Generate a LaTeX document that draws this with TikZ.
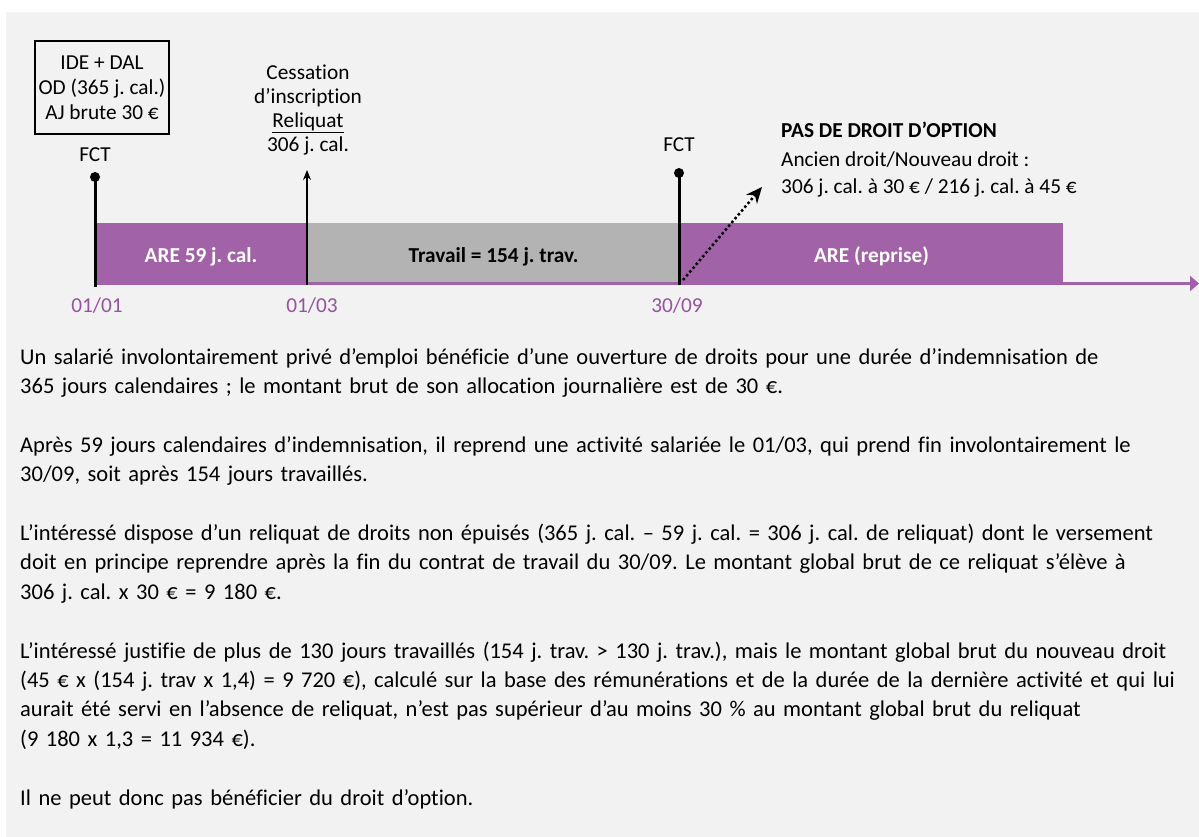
\documentclass[tikz,border=0pt]{standalone}
\usepackage{fontspec}
\setmainfont{Carlito}[Ligatures={TeX,NoCommon}]
\usetikzlibrary{arrows.meta,positioning}
\definecolor{purp}{RGB}{161,98,168}
\definecolor{datepurp}{RGB}{150,82,160}
\definecolor{workgray}{RGB}{179,179,179}
\definecolor{bggray}{RGB}{242,242,242}
\frenchspacing
\begin{document}
\begin{tikzpicture}[x=1pt,y=-1pt,
lbl/.style={font=\fontsize{21.3}{24.3}\selectfont,inner sep=0pt,anchor=base,align=center},
band/.style={minimum height=59pt,inner sep=0pt,text height=18pt,text depth=0pt,font=\fontsize{21.3}{25}\selectfont\bfseries},
date/.style={lbl,text=datepurp},
dot/.style={circle,fill=black,inner sep=0pt,minimum size=10pt},
vline/.style={line width=3pt},
para/.style={font=\fontsize{22.5}{29.4}\selectfont,inner sep=0pt,anchor=base west,text width=1300pt,align=left}]
\useasboundingbox (0,0) rectangle (1199,837);
\fill[bggray] (6,12) rectangle (1199,837);
\node[band,fill=purp,text=white,minimum width=212pt] (are1) at (201,253) {ARE 59 j. cal.};
\node[band,fill=workgray,minimum width=373pt] (trav) at (493.5,253) {Travail = 154 j. trav.};
\node[band,fill=purp,text=white,minimum width=383pt] (are2) at (871.5,253) {ARE (reprise)};
\coordinate (t0) at (95,283.5);
\coordinate (tend) at (1199,283.5);
\draw[purp,line width=3pt,-{Triangle[length=9pt,width=15pt]}] (t0)--(tend);
\node[lbl,draw,line width=1.5pt,minimum width=134pt,minimum height=93pt,anchor=center,font=\fontsize{21.3}{25}\selectfont] (od) at (102,87.5) {IDE + DAL\\OD (365 j. cal.)\\AJ brute 30 €};
\node[lbl] (fct1) at (95,162) {FCT};
\node[dot] (d0) at (95,177) {};
\coordinate (b0) at (95,287);
\draw[vline] (d0.center)--(b0);
\node[lbl] (ces) at (308,152) {Cessation\\d’inscription\\\underline{Reliquat}\\306 j. cal.};
\coordinate (b1) at (307,285);
\coordinate (a1) at (307,170);
\draw[line width=2.5pt,-{Stealth[length=10pt,width=8pt]}] (b1)--(a1);
\node[lbl] (fct2) at (679,152) {FCT};
\node[dot] (d2) at (679,173) {};
\coordinate (b2) at (679,285);
\draw[vline] (d2.center)--(b2);
\coordinate (s2) at (683,280);
\coordinate (a2) at (762,187);
\draw[line width=2.5pt,dash pattern=on 2.5pt off 2.5pt,-{Stealth[length=16pt,width=14pt]}] (s2)--(a2);
\node[lbl,anchor=base west,align=left,font=\fontsize{21.3}{28}\selectfont] (opt) at (781,194) {\textbf{PAS DE DROIT D’OPTION}\\Ancien droit/Nouveau droit :\\306 j. cal. à 30 € / 216 j. cal. à 45 €};
\node[date] (dt0) at (97,312) {01/01};
\node[date] (dt1) at (312,312) {01/03};
\node[date] (dt2) at (677,312) {30/09};
\node[para] (p1) at (20,364) {Un salarié involontairement privé d’emploi bénéficie d’une ouverture de droits pour une durée d’indemnisation de\\365 jours calendaires ; le montant brut de son allocation journalière est de 30 €.};
\node[para] (p2) at (20,452.2) {Après 59 jours calendaires d’indemnisation, il reprend une activité salariée le 01/03, qui prend fin involontairement le\\30/09, soit après 154 jours travaillés.};
\node[para] (p3) at (20,540.4) {L’intéressé dispose d’un reliquat de droits non épuisés (365 j. cal. – 59 j. cal. = 306 j. cal. de reliquat) dont le versement\\doit en principe reprendre après la fin du contrat de travail du 30/09. Le montant global brut de ce reliquat s’élève à\\306 j. cal. x 30 € = 9 180 €.};
\node[para] (p4) at (20,658) {L’intéressé justifie de plus de 130 jours travaillés (154 j. trav. > 130 j. trav.), mais le montant global brut du nouveau droit\\(45 € x (154 j. trav x 1,4) = 9 720 €), calculé sur la base des rémunérations et de la durée de la dernière activité et qui lui\\aurait été servi en l’absence de reliquat, n’est pas supérieur d’au moins 30 \% au montant global brut du reliquat\\(9 180 x 1,3 = 11 934 €).};
\node[para] (p5) at (20,805) {Il ne peut donc pas bénéficier du droit d’option.};
\end{tikzpicture}
\end{document}
